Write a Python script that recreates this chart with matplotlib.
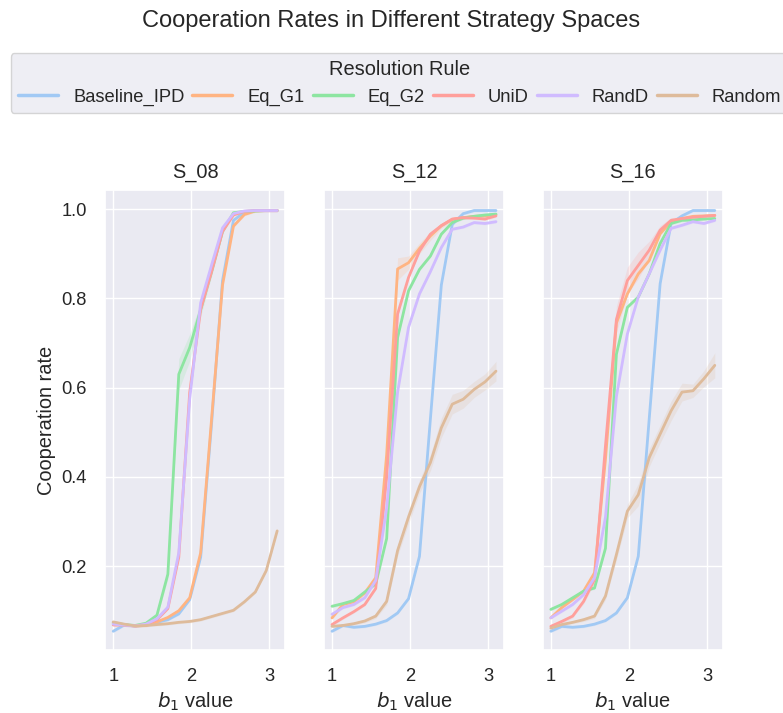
import matplotlib
matplotlib.use("Agg")
import matplotlib.pyplot as plt
from matplotlib.lines import Line2D
import numpy as np
import seaborn as sns

sns.set_theme(style="darkgrid", palette="pastel", font_scale=1.2)
plt.rcParams["font.family"] = ["Liberation Sans", "DejaVu Sans"]
plt.rcParams["xtick.major.pad"] += 3.6
plt.rcParams["ytick.major.pad"] += 3.6

b1 = [1.00, 1.14, 1.28, 1.42, 1.56, 1.70, 1.84, 1.98,
      2.12, 2.26, 2.40, 2.54, 2.68, 2.82, 2.96, 3.10]

rules = ["Baseline_IPD", "Eq_G1", "Eq_G2", "UniD", "RandD", "Random"]
spaces = ["S_08", "S_12", "S_16"]

# S_08
s08_baseline = [0.054, 0.068, 0.066, 0.068, 0.074, 0.080, 0.093, 0.125,
                0.220, 0.520, 0.840, 0.975, 0.993, 0.997, 0.997, 0.997]
s08_eq_g1 = [0.072, 0.068, 0.066, 0.067, 0.075, 0.085, 0.100, 0.129,
             0.230, 0.530, 0.830, 0.962, 0.988, 0.996, 0.997, 0.997]
s08_eq_g2 = [0.073, 0.069, 0.067, 0.072, 0.090, 0.182, 0.630, 0.690,
             0.775, 0.860, 0.950, 0.992, 0.995, 0.996, 0.997, 0.997]
s08_unid = [0.068, 0.068, 0.066, 0.069, 0.080, 0.105, 0.220, 0.590,
            0.775, 0.860, 0.950, 0.987, 0.995, 0.997, 0.997, 0.997]
s08_randd = [0.070, 0.068, 0.066, 0.070, 0.082, 0.108, 0.230, 0.575,
             0.790, 0.875, 0.958, 0.990, 0.996, 0.997, 0.997, 0.997]
s08_random = [0.075, 0.070, 0.066, 0.067, 0.069, 0.071, 0.074, 0.076,
              0.080, 0.087, 0.094, 0.101, 0.120, 0.142, 0.190, 0.279]

# S_12
s12_baseline = [0.054, 0.067, 0.063, 0.065, 0.070, 0.078, 0.095, 0.127,
                0.222, 0.530, 0.830, 0.966, 0.990, 0.997, 0.997, 0.997]
s12_eq_g1 = [0.084, 0.114, 0.120, 0.140, 0.174, 0.450, 0.866, 0.880,
             0.912, 0.940, 0.963, 0.977, 0.981, 0.984, 0.985, 0.988]
s12_eq_g2 = [0.110, 0.116, 0.123, 0.142, 0.160, 0.262, 0.712, 0.817,
             0.865, 0.895, 0.944, 0.970, 0.980, 0.984, 0.987, 0.989]
s12_unid = [0.069, 0.084, 0.098, 0.114, 0.150, 0.400, 0.765, 0.847,
            0.906, 0.944, 0.963, 0.978, 0.981, 0.980, 0.978, 0.985]
s12_randd = [0.092, 0.107, 0.114, 0.129, 0.168, 0.330, 0.590, 0.735,
             0.810, 0.860, 0.914, 0.955, 0.960, 0.970, 0.968, 0.972]
s12_random = [0.065, 0.067, 0.071, 0.077, 0.088, 0.121, 0.235, 0.310,
              0.378, 0.432, 0.510, 0.563, 0.574, 0.596, 0.613, 0.637]

# S_16
s16_baseline = [0.054, 0.065, 0.063, 0.065, 0.070, 0.078, 0.095, 0.129,
                0.222, 0.530, 0.833, 0.968, 0.985, 0.997, 0.997, 0.997]
s16_eq_g1 = [0.084, 0.107, 0.125, 0.144, 0.185, 0.440, 0.745, 0.810,
             0.855, 0.885, 0.945, 0.972, 0.979, 0.984, 0.985, 0.986]
s16_eq_g2 = [0.103, 0.114, 0.129, 0.144, 0.151, 0.240, 0.675, 0.780,
             0.803, 0.855, 0.923, 0.968, 0.975, 0.976, 0.978, 0.979]
s16_unid = [0.065, 0.076, 0.088, 0.121, 0.170, 0.470, 0.753, 0.840,
            0.874, 0.908, 0.953, 0.975, 0.979, 0.982, 0.984, 0.986]
s16_randd = [0.084, 0.099, 0.114, 0.136, 0.174, 0.310, 0.580, 0.720,
             0.803, 0.855, 0.908, 0.957, 0.964, 0.972, 0.968, 0.975]
s16_random = [0.061, 0.069, 0.074, 0.080, 0.088, 0.133, 0.226, 0.323,
              0.360, 0.443, 0.496, 0.548, 0.590, 0.593, 0.620, 0.650]

# half-width of the shaded confidence band (where it is visible)
s08_eq_g2_ci = [0.003, 0.003, 0.003, 0.003, 0.005, 0.010, 0.035, 0.030,
                0.015, 0.010, 0.005, 0.003, 0.002, 0.002, 0.002, 0.002]
s12_eq_g1_ci = [0.004, 0.004, 0.004, 0.005, 0.006, 0.020, 0.025, 0.015,
                0.012, 0.010, 0.006, 0.004, 0.004, 0.004, 0.004, 0.004]
s12_random_ci = [0.003, 0.003, 0.003, 0.004, 0.005, 0.008, 0.012, 0.015,
                 0.015, 0.018, 0.022, 0.022, 0.020, 0.018, 0.018, 0.022]
s16_random_ci = [0.003, 0.003, 0.003, 0.004, 0.005, 0.008, 0.012, 0.015,
                 0.025, 0.020, 0.020, 0.022, 0.020, 0.015, 0.018, 0.028]
s16_unid_ci = [0.004, 0.004, 0.004, 0.005, 0.008, 0.015, 0.030, 0.030,
               0.030, 0.020, 0.010, 0.006, 0.004, 0.004, 0.004, 0.004]

panels = {
    "S_08": [s08_baseline, s08_eq_g1, s08_eq_g2, s08_unid, s08_randd, s08_random],
    "S_12": [s12_baseline, s12_eq_g1, s12_eq_g2, s12_unid, s12_randd, s12_random],
    "S_16": [s16_baseline, s16_eq_g1, s16_eq_g2, s16_unid, s16_randd, s16_random],
}
bands = {
    ("S_08", "Eq_G2"): s08_eq_g2_ci,
    ("S_12", "Eq_G1"): s12_eq_g1_ci,
    ("S_12", "Random"): s12_random_ci,
    ("S_16", "Random"): s16_random_ci,
    ("S_16", "UniD"): s16_unid_ci,
}

colors = sns.color_palette("pastel", 6)

fig, axes = plt.subplots(1, 3, figsize=(7.83, 7.13), dpi=100, sharey=True)
fig.subplots_adjust(left=105 / 783, right=723 / 783, bottom=63 / 713,
                    top=523 / 713, wspace=0.213)

x = np.array(b1)
for ax, space in zip(axes, spaces):
    for rule, y, c in zip(rules, panels[space], colors):
        y = np.array(y)
        ci = np.array(bands.get((space, rule), [0.003] * len(b1)))
        ax.fill_between(x, y - ci, y + ci, color=c, alpha=0.2, linewidth=0)
        ax.plot(x, y, color=c, linewidth=2, label=rule)
    ax.set_title(space, pad=9)
    ax.set_xlabel("$b_1$ value")
    ax.set_xticks([1, 2, 3])
    ax.set_ylim(0.012, 1.043)
    ax.set_yticks([0.2, 0.4, 0.6, 0.8, 1.0])

axes[0].set_ylabel("Cooperation rate")

handles = [Line2D([], [], color=c, linewidth=2.5) for c in colors]
fig.legend(handles, rules, title="Resolution Rule", loc="upper left",
           bbox_to_anchor=(10.7 / 783, 1 - 53 / 713), borderaxespad=0,
           ncol=6, fontsize=13.2, title_fontsize=14.4,
           handlelength=2.18, handletextpad=0.82, columnspacing=0.44)

fig.suptitle("Cooperation Rates in Different Strategy Spaces",
             y=1 - 21 / 713, va="center", fontsize=17)

fig.savefig("out.png", dpi=100)
